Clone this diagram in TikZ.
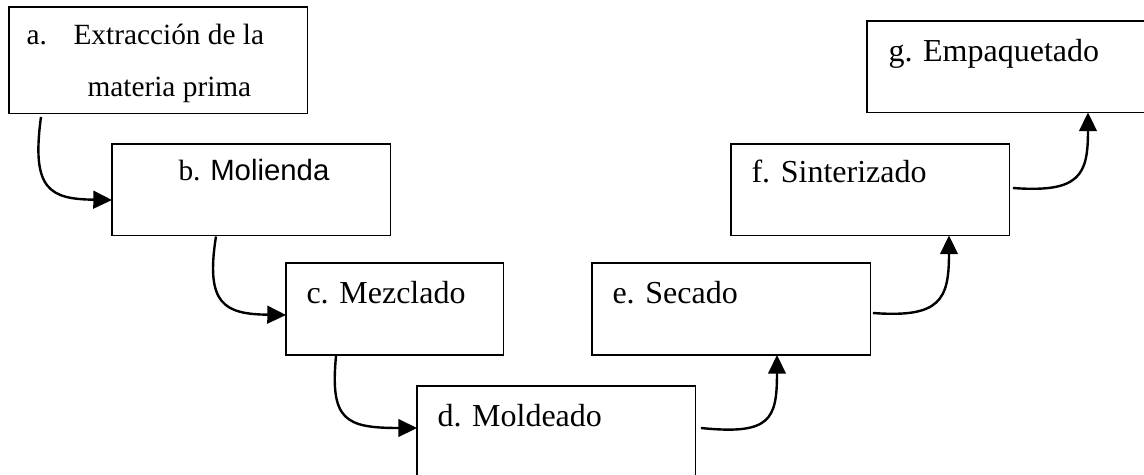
\documentclass[tikz,border=0pt]{standalone}
\usepackage{fontspec}
\setmainfont{Liberation Serif}
\setsansfont{Liberation Sans}
\usepackage{tikz}
\usetikzlibrary{arrows.meta}

\begin{document}
\begin{tikzpicture}[x=0.375pt, y=-0.375pt,
	caja/.style={draw, line width=0.4pt, anchor=north west, inner sep=0pt, outer sep=0pt, minimum width=104.6pt, minimum height=34.3pt},
	texto/.style={anchor=base west, inner sep=0pt, font=\fontsize{12}{14}\selectfont},
	flecha/.style={line width=0.9pt, -{Triangle[length=7pt, width=6.6pt]}}]
\useasboundingbox (0,0) rectangle (1144,475);
\node[caja, minimum width=112.1pt, minimum height=40.1pt] (a) at (9,7) {};
\node[caja] (b) at (112,144) {};
\node[caja, minimum width=81.4pt, minimum height=34.5pt] (c) at (286,263) {};
\node[caja, minimum height=34.5pt] (d) at (417,386) {};
\node[caja, minimum height=34.5pt] (e) at (592,263) {};
\node[caja] (f) at (731,144) {};
\node[caja] (g) at (867,21) {};
\node[texto, font=\fontsize{11}{13}\selectfont] (ta) at ([shift={(17,38)}]a.north west) {a.};
\node[texto, font=\fontsize{11}{13}\selectfont] (ta2) at ([shift={(64,38)}]a.north west) {Extracción de la};
\node[texto, font=\fontsize{11}{13}\selectfont] (ta3) at ([shift={(78,89)}]a.north west) {materia prima};
\node[texto, font=\fontsize{11}{13}\selectfont] (tb) at ([shift={(66,36)}]b.north west) {b. {\sffamily Molienda}};
\node[texto] (tc) at ([shift={(20,40)}]c.north west) {c. Mezclado};
\node[texto] (td) at ([shift={(20,40)}]d.north west) {d. Moldeado};
\node[texto] (te) at ([shift={(20,40)}]e.north west) {e. Secado};
\node[texto] (tf) at ([shift={(20,39)}]f.north west) {f. Sinterizado};
\node[texto] (tg) at ([shift={(21,41)}]g.north west) {g. Empaquetado};
\draw[flecha] ([shift={(32,3)}]a.south west) .. controls (31,190) and (50,199) .. ([shift={(0,56)}]b.north west);
\draw[flecha] ([shift={(104,1)}]b.south west) .. controls (205,305) and (225,314) .. ([shift={(0,52)}]c.north west);
\draw[flecha] ([shift={(50,1)}]c.south west) .. controls (330,420) and (345,428) .. ([shift={(0,42)}]d.north west);
\draw[flecha] ([shift={(5,42)}]d.north east) .. controls (770,435) and (777,420) .. ([shift={(185,0)}]e.south west);
\draw[flecha] ([shift={(2,50)}]e.north east) .. controls (940,318) and (949,300) .. ([shift={(218,0)}]f.south west);
\draw[flecha] ([shift={(3,44)}]f.north east) .. controls (1080,193) and (1088,175) .. ([shift={(221,0)}]g.south west);
\end{tikzpicture}
\end{document}
